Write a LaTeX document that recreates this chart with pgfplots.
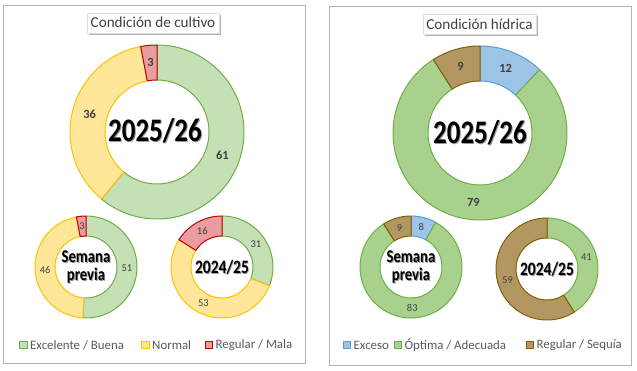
\documentclass[border=0pt]{standalone}
\usepackage{pgfplots}
\pgfplotsset{compat=1.18}
\usepackage{pgfplotstable}
\usetikzlibrary{calc}
\usepackage{fontspec}
\setmainfont{Carlito}
\newfontfamily\cond[FakeStretch=0.82]{Carlito}

\definecolor{Af1}{HTML}{C5E0B4}\definecolor{Ad1}{HTML}{70AD47}
\definecolor{Af2}{HTML}{FFE699}\definecolor{Ad2}{HTML}{FFC000}
\definecolor{Af3}{HTML}{E99DA1}\definecolor{Ad3}{HTML}{C00000}
\definecolor{Bf1}{HTML}{9DC3E6}\definecolor{Bd1}{HTML}{5B9BD5}
\definecolor{Bf2}{HTML}{A9D18E}\definecolor{Bd2}{HTML}{70AD47}
\definecolor{Bf3}{HTML}{B39762}\definecolor{Bd3}{HTML}{7F6000}
\definecolor{labc}{HTML}{404040}
\definecolor{legc}{HTML}{595959}
\definecolor{framec}{HTML}{B4B4B4}

% Condicion de cultivo: c1 Excelente/Buena, c2 Normal, c3 Regular/Mala
\pgfplotstableread{
id cx  cy  R  r  c1 c2 c3
0  157 239 87 52 61 36 3
1  86  104 51 31 51 46 3
2  222 104 51 31 31 53 16
}\cultivo
% Condicion hidrica: c1 Exceso, c2 Optima/Adecuada, c3 Regular/Sequia
\pgfplotstableread{
id cx  cy  R  r  c1 c2 c3
0  480 238 87 52 12 79 9
1  411 104 51 31 8  83 9
2  547 102 51 31 0  41 59
}\hidrica

\newcommand\seg[8]{% v fill draw cx cy R r font
  \pgfmathsetmacro\aA{90-3.6*\cum}%
  \pgfmathsetmacro\aB{90-3.6*(\cum+#1)}%
  \ifdim #1pt>0pt
    \filldraw[fill=#2, draw=#3, line width=1bp, line join=round, shift={(axis cs:#4,#5)}]
      (\aA:#6bp) arc[start angle=\aA, end angle=\aB, radius=#6bp]
      -- (\aB:#7bp) arc[start angle=\aB, end angle=\aA, radius=#7bp] -- cycle;
  \fi
  \pgfmathsetmacro\cum{\cum+#1}%
}
\newcommand\seglab[8]{%
  \pgfmathsetmacro\aA{90-3.6*\cum}%
  \pgfmathsetmacro\aB{90-3.6*(\cum+#1)}%
  \pgfmathsetmacro\aM{(\aA+\aB)/2}%
  \pgfmathsetmacro\rM{(#6+#7)/2}%
  \ifdim #1pt>0pt
    \node[font=#8, text=labc, inner sep=0pt] at ($(axis cs:#4,#5)+(\aM:\rM bp)$) {#1};
  \fi
  \pgfmathsetmacro\cum{\cum+#1}%
}
\newcommand\donut[4]{% table, row, colour prefix, label font
  \pgfplotstablegetelem{#2}{cx}\of#1\let\cx\pgfplotsretval
  \pgfplotstablegetelem{#2}{cy}\of#1\let\cy\pgfplotsretval
  \pgfplotstablegetelem{#2}{R}\of#1\let\RR\pgfplotsretval
  \pgfplotstablegetelem{#2}{r}\of#1\let\rr\pgfplotsretval
  \pgfplotstablegetelem{#2}{c1}\of#1\let\va\pgfplotsretval
  \pgfplotstablegetelem{#2}{c2}\of#1\let\vb\pgfplotsretval
  \pgfplotstablegetelem{#2}{c3}\of#1\let\vc\pgfplotsretval
  \def\cum{0}%
  \seg{\va}{#3f1}{#3d1}{\cx}{\cy}{\RR}{\rr}{#4}%
  \seg{\vb}{#3f2}{#3d2}{\cx}{\cy}{\RR}{\rr}{#4}%
  \seg{\vc}{#3f3}{#3d3}{\cx}{\cy}{\RR}{\rr}{#4}%
  \def\cum{0}%
  \seglab{\va}{#3f1}{#3d1}{\cx}{\cy}{\RR}{\rr}{#4}%
  \seglab{\vb}{#3f2}{#3d2}{\cx}{\cy}{\RR}{\rr}{#4}%
  \seglab{\vc}{#3f3}{#3d3}{\cx}{\cy}{\RR}{\rr}{#4}%
}
\newcommand\ctext[4]{% x y size text
  \node[text=black!40, align=center, inner sep=0pt, font=\cond\bfseries\fontsize{#3}{#3}\selectfont]
    at ($(axis cs:#1,#2)+(0.9bp,-0.9bp)$) {#4};
  \node[text=black, align=center, inner sep=0pt, font=\cond\bfseries\fontsize{#3}{#3}\selectfont]
    at (axis cs:#1,#2) {#4};
}
\newcommand\legitem[5]{% x y fill draw text
  \filldraw[fill=#3, draw=#4, line width=0.9bp] ($(axis cs:#1,#2)+(0bp,-3.8bp)$) rectangle ++(7.6bp,7.6bp);
  \node[anchor=west, inner sep=0pt, text=legc, font=\fontsize{12.9}{13}\selectfont] at ($(axis cs:#1,#2)+(10.5bp,0)$) {#5};
}
\newcommand\titlebox[3]{% x y width
  \node[fill=black!30, minimum width=#3bp, minimum height=20bp, inner sep=0pt] at ($(axis cs:#1,#2)+(1.5bp,-1.8bp)$) {};
  \node[fill=white, draw=black!12, minimum width=#3bp, minimum height=20bp, inner sep=0pt] at (axis cs:#1,#2) {};
}

\begin{document}
\begin{tikzpicture}
\path[use as bounding box] (0,0) rectangle (637bp,371bp);
\begin{axis}[
  at={(0,0)}, anchor=south west,
  scale only axis, width=637bp, height=371bp,
  xmin=0, xmax=637, ymin=0, ymax=371,
  axis lines=none, clip=false,
]
\pgfplotsextra{
  % frames
  \draw[framec, line width=1bp] (axis cs:3,7) rectangle (axis cs:305,365);
  \draw[framec, line width=1bp] (axis cs:329,5) rectangle (axis cs:631,364);
  % titles
  \titlebox{153}{348}{132}
  \node[text=labc, font=\fontsize{15.2}{16}\selectfont] at (axis cs:153,348.5) {Condición de cultivo};
  \titlebox{479.5}{346.5}{113}
  \node[text=labc, font=\fontsize{15.2}{16}\selectfont] at (axis cs:479.5,347) {Condición hídrica};
  % donuts
  \donut{\cultivo}{0}{A}{\bfseries\fontsize{12.5}{12}\selectfont}
  \donut{\cultivo}{1}{A}{\fontsize{10.5}{10}\selectfont}
  \donut{\cultivo}{2}{A}{\fontsize{10.5}{10}\selectfont}
  \donut{\hidrica}{0}{B}{\bfseries\fontsize{12.5}{12}\selectfont}
  \donut{\hidrica}{1}{B}{\fontsize{10.5}{10}\selectfont}
  \donut{\hidrica}{2}{B}{\fontsize{10.5}{10}\selectfont}
  % centre labels
  \ctext{155}{240}{33}{2025/26}
  \ctext{86}{104}{18}{Semana\\previa}
  \ctext{222}{104}{19}{2024/25}
  \ctext{480}{238}{33}{2025/26}
  \ctext{411}{104}{18}{Semana\\previa}
  \ctext{547}{102}{19}{2024/25}
  % legends
  \legitem{19.5}{26}{Af1}{Ad1}{Excelente / Buena}
  \legitem{141.5}{26}{Af2}{Ad2}{Normal}
  \legitem{205}{26}{Af3}{Ad3}{Regular / Mala}
  \legitem{343}{26}{Bf1}{Bd1}{Exceso}
  \legitem{394}{26}{Bf2}{Bd2}{Óptima / Adecuada}
  \legitem{526}{26}{Bf3}{Bd3}{Regular / Sequía}
}
\end{axis}
\end{tikzpicture}
\end{document}
